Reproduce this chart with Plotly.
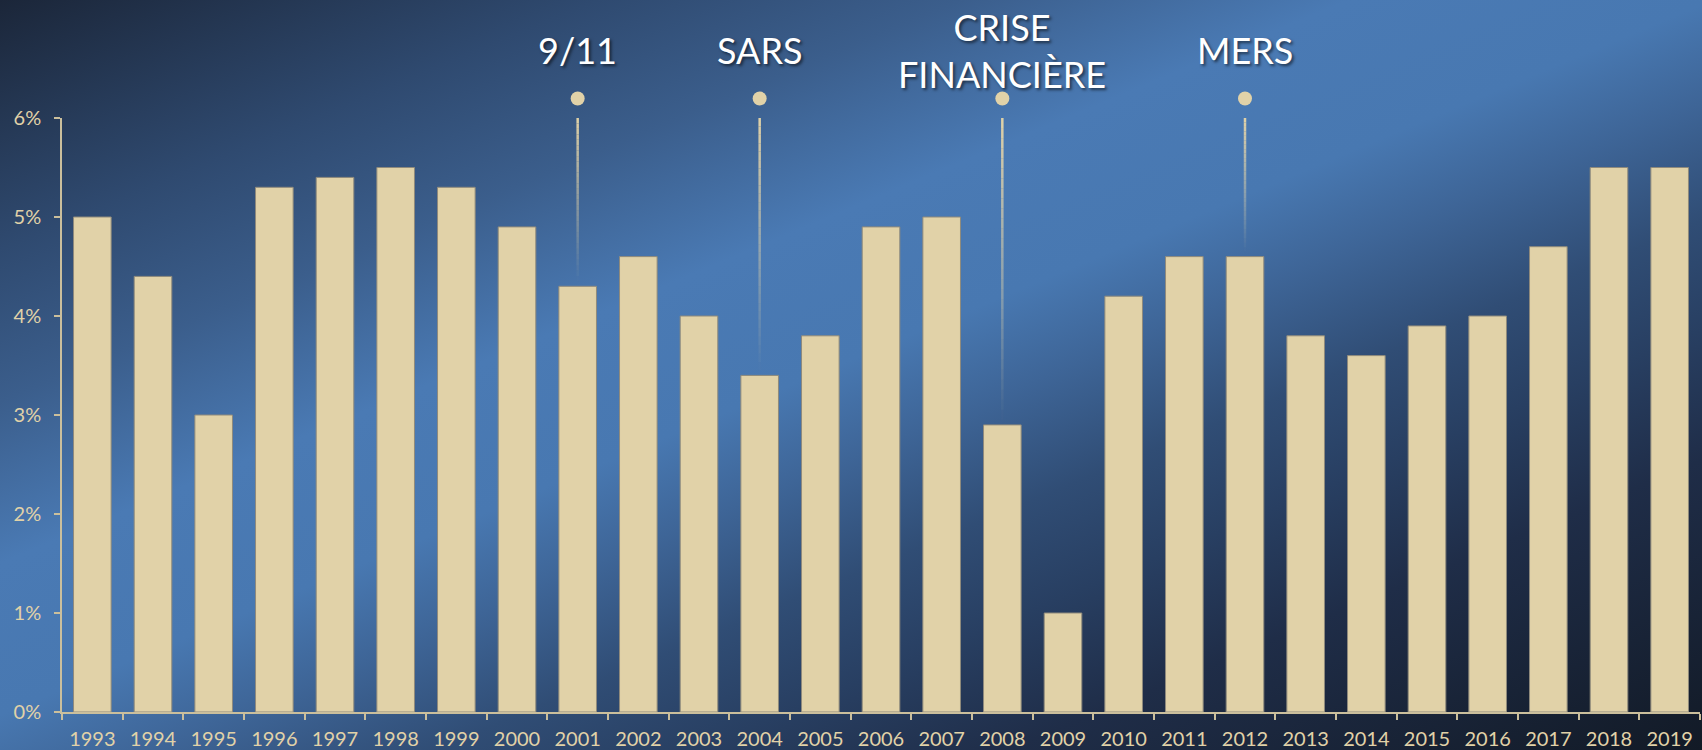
import base64
import plotly.graph_objects as go

# growth by year
years = [str(y) for y in range(1993, 2020)]
growth = [5.0, 4.4, 3.0, 5.3, 5.4, 5.5, 5.3, 4.9, 4.3, 4.6, 4.0, 3.4, 3.8, 4.9,
          5.0, 2.9, 1.0, 4.2, 4.6, 4.6, 3.8, 3.6, 3.9, 4.0, 4.7, 5.5, 5.5]

events = ["9/11", "SARS", "CRISE<br>FINANCIÈRE", "MERS"]
event_years = ["2001", "2004", "2008", "2012"]

y_ticks = [0, 1, 2, 3, 4, 5, 6]

BEIGE = "#e1d2a8"
AXIS = "#cbbf9c"
W, H = 1702, 750
L, R, T, B = 62, 2, 118, 38

# background: diagonal blue / navy gradient as an svg image
glen = 1347
stops = [(0, "#1b2639"), (230, "#2f4a70"), (370, "#3b5e8c"), (520, "#4a7ab4"),
         (660, "#4878b1"), (750, "#3e6597"), (860, "#304d75"), (960, "#283f62"),
         (1080, "#1f2d48"), (1347, "#121a26")]
stop_xml = "".join(f'<stop offset="{p / glen:.3f}" stop-color="{c}"/>' for p, c in stops)
svg = (f'<svg xmlns="http://www.w3.org/2000/svg" width="{W}" height="{H}" '
       f'viewBox="0 0 {W} {H}" preserveAspectRatio="none"><defs>'
       f'<linearGradient id="g" gradientUnits="userSpaceOnUse" x1="0" y1="0" '
       f'x2="{0.385 * glen:.0f}" y2="{0.923 * glen:.0f}">{stop_xml}</linearGradient>'
       f'</defs><rect width="{W}" height="{H}" fill="url(#g)"/></svg>')
bg_src = "data:image/svg+xml;base64," + base64.b64encode(svg.encode()).decode()

pw, ph = W - L - R, H - T - B

fig = go.Figure()
fig.add_trace(go.Bar(
    x=years, y=growth,
    marker=dict(color=BEIGE, line=dict(color="#8f8a7c", width=1)),
    hoverinfo="skip",
))

# event markers: dot above the axis + fading guide line down to the bar
ymax = y_ticks[-1]
ev_idx = [years.index(y) for y in event_years]
ev_vals = [growth[i] for i in ev_idx]
dot_y = 1 + 19.5 / ph      # just above the top of the plot
text_y = 1 + 68 / ph
nseg = 30
for x, v in zip(ev_idx, ev_vals):
    top, bot = ymax, v + 0.05
    for k in range(nseg):
        y0 = top - (top - bot) * k / nseg
        y1 = top - (top - bot) * (k + 1) / nseg
        a = 1 - (k + 0.5) / nseg
        fig.add_shape(type="line", x0=x, x1=x, y0=y0, y1=y1, xref="x", yref="y",
                      line=dict(color=f"rgba(225,210,168,{a:.3f})", width=2.5))
    fig.add_shape(type="circle", xref="x", yref="paper", xsizemode="pixel",
                  ysizemode="pixel", xanchor=x, yanchor=dot_y,
                  x0=-7, x1=7, y0=-7, y1=7, fillcolor=BEIGE, line_width=0)

for txt, x in zip(events, ev_idx):
    fig.add_annotation(x=x, y=text_y, xref="x", yref="paper", text=txt,
                       showarrow=False, yanchor="middle",
                       font=dict(family="Lato", size=36, color="white",
                                 shadow="2px 2px 3px rgba(0,0,0,0.55)"))

fig.update_layout(
    width=W, height=H,
    margin=dict(l=L, r=R, t=T, b=B, autoexpand=False),
    paper_bgcolor="#24385a", plot_bgcolor="rgba(0,0,0,0)",
    showlegend=False, bargap=0.38,
    font=dict(family="Lato", color=BEIGE, size=20),
    images=[dict(source=bg_src, xref="paper", yref="paper",
                 x=-L / pw, y=1 + T / ph, sizex=W / pw, sizey=H / ph,
                 xanchor="left", yanchor="top", sizing="stretch", layer="below")],
    xaxis=dict(type="category", range=[-0.5, len(years) - 0.5], automargin=False,
               showgrid=False, showline=True, linecolor=AXIS, tickangle=0,
               linewidth=1.5, ticks="outside", tickson="boundaries", ticklen=6,
               tickcolor=AXIS, tickwidth=1.5, ticklabelstandoff=8,
               tickfont=dict(size=20, color=BEIGE)),
    yaxis=dict(range=[0, ymax], tickvals=y_ticks, ticktext=[f"{v}%" for v in y_ticks],
               automargin=False, showgrid=False,
               zeroline=False, showline=True, linecolor=AXIS, linewidth=1.5,
               ticks="outside", ticklen=6, tickcolor=AXIS, tickwidth=1.5,
               ticklabelstandoff=9, tickfont=dict(size=20, color=BEIGE)),
)

fig.write_html("out.html", config={"displayModeBar": False},
               post_script="document.body.style.margin='0';")
